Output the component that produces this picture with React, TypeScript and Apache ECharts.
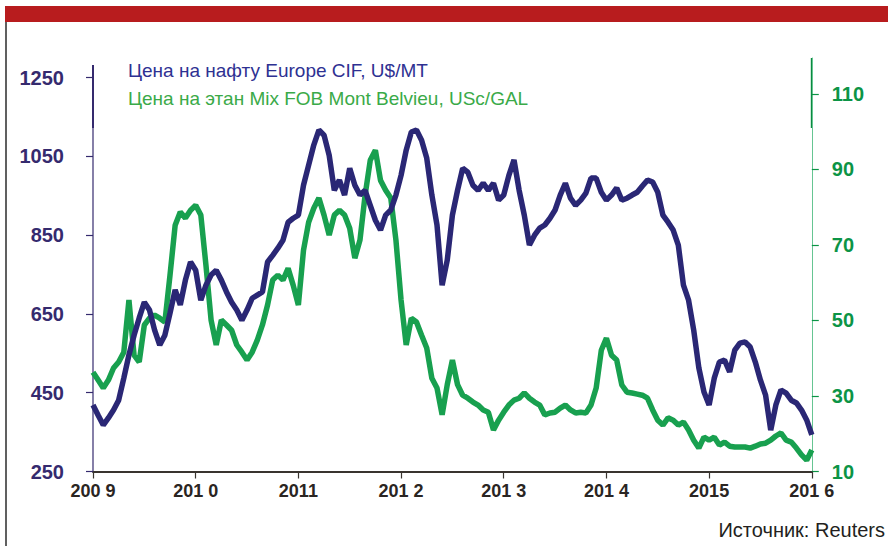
import React, { useEffect, useRef } from "react";
import * as echarts from "echarts";

// Sampling: every 0.05 year from 2009.00 to 2016.00
const startYear = 2009;
const step = 0.05;

// Naphtha Europe CIF, US$/MT (left axis)
const oil = [
  419, 393, 368, 386, 406, 431, 487, 546, 596, 640, 680, 660, 609, 571, 596, 652, 711, 673, 736, 782, 761,
  685, 723, 749, 761, 736, 706, 680, 660, 634, 660, 690, 698, 706, 782, 799, 817, 837, 883, 893, 901,
  977, 1028, 1079, 1117, 1104, 1053, 964, 990, 952, 1020, 977, 952, 964, 926, 888, 863, 901, 914, 952, 1002,
  1066, 1112, 1117, 1091, 1046, 952, 876, 723, 787, 901, 964, 1020, 1010, 977, 964, 982, 964, 982, 939, 952,
  1002, 1041, 964, 901, 825, 850, 868, 876, 893, 914, 952, 982, 944, 926, 939, 957, 995, 995, 959, 939,
  952, 970, 939, 944, 952, 959, 975, 990, 985, 959, 901, 883, 863, 825, 723, 685, 609, 513, 452, 419,
  487, 528, 533, 503, 558, 576, 579, 566, 528, 482, 444, 355, 419, 457, 449, 431, 424, 406, 381, 343,
];

// Ethane Mix FOB Mont Belvieu, USc/GAL (right axis)
const ethane = [
  36.3, 34.2, 32.1, 34.2, 37.4, 39.0, 41.6, 55.4, 40.8, 39.0, 48.8, 50.6, 51.4, 50.6, 49.6, 62.0, 75.2, 78.7, 77.1, 79.2, 80.5,
  77.9, 64.6, 50.1, 43.5, 50.1, 48.8, 47.4, 43.5, 41.6, 39.5, 41.6, 44.8, 48.8, 54.1, 60.7, 62.0, 60.7, 63.8, 59.3, 54.1,
  68.6, 76.0, 79.7, 82.4, 77.9, 72.6, 77.9, 79.2, 77.9, 74.4, 66.5, 71.3, 83.2, 92.4, 95.1, 87.1, 84.5, 82.4, 71.3, 55.4,
  43.5, 50.6, 49.6, 46.1, 42.7, 34.7, 32.1, 25.0, 33.0, 39.5, 33.0, 30.2, 29.4, 28.4, 27.6, 26.3, 25.7, 21.0, 23.6, 25.7,
  27.6, 28.9, 29.4, 30.8, 29.4, 28.4, 27.6, 25.0, 25.5, 25.7, 26.8, 27.6, 26.3, 25.5, 25.7, 25.5, 27.6, 32.1, 42.1, 45.3,
  40.8, 39.5, 32.9, 31.0, 30.8, 30.5, 30.2, 29.4, 26.3, 23.6, 22.3, 24.2, 23.6, 22.3, 23.1, 21.0, 18.3, 16.2, 19.1, 18.3,
  19.1, 17.0, 17.8, 16.7, 16.5, 16.5, 16.5, 16.2, 16.7, 17.3, 17.5, 18.3, 19.4, 20.2, 18.3, 17.8, 16.2, 14.4, 13.0, 15.7,
];

const yearTicks = [2009, 2010, 2011, 2012, 2013, 2014, 2015, 2016];
const yearLabels = ["200 9", "201 0", "2011", "201 2", "201 3", "201 4", "2015", "201 6"];
const leftTicks = [250, 450, 650, 850, 1050, 1250];
const rightTicks = [10, 30, 50, 70, 90, 110];

const legendOil = "Цена на нафту Europe CIF, U$/MT";
const legendEthane = "Цена на этан Mix FOB Mont Belvieu, USc/GAL";
const sourceText = "Источник: Reuters";

const FONT = '"Liberation Sans", Arial, Helvetica, sans-serif';
const NAVY = "#2a2775";
const GREEN = "#18a04f";
const PURPLE = "#352a6e";
const DKGREEN = "#0c9446";

export default function App() {
  const ref = useRef<HTMLDivElement>(null);

  useEffect(() => {
    if (!ref.current) return;
    const chart = echarts.init(ref.current, null, { renderer: "svg" });
    const xOf = (i: number) => Math.round((startYear + i * step) * 1000) / 1000;
    const oilData = oil.map((v, i) => [xOf(i), v]);
    const ethData = ethane.map((v, i) => [xOf(i), v]);

    chart.setOption({
      animation: false,
      backgroundColor: "#ffffff",
      grid: { left: 93, right: 76.2, top: 58, bottom: 74.5, containLabel: false },
      xAxis: {
        type: "value",
        min: 2009,
        max: 2016,
        interval: 1,
        axisLine: { show: true, lineStyle: { color: "#39342f", width: 2 } },
        axisTick: { show: true, length: 7, lineStyle: { color: "#39342f", width: 1.2 } },
        splitLine: { show: false },
        axisLabel: {
          margin: 10,
          color: "#2a2522",
          fontFamily: FONT,
          fontWeight: "bold",
          fontSize: 18,
          formatter: (v: number) => {
            const idx = yearTicks.indexOf(Math.round(v));
            return idx >= 0 ? yearLabels[idx] : "";
          },
        },
      },
      yAxis: [
        {
          type: "value",
          position: "left",
          min: 250,
          max: 1300,
          axisLine: { show: false },
          axisTick: {
            show: true,
            length: 7,
            customValues: leftTicks,
            lineStyle: { color: PURPLE, width: 1.2 },
          },
          splitLine: { show: false },
          axisLabel: {
            customValues: leftTicks,
            margin: 29,
            color: PURPLE,
            fontFamily: FONT,
            fontWeight: "bold",
            fontSize: 20,
            formatter: (v: number) => String(v),
          },
        },
        {
          type: "value",
          position: "right",
          min: 10,
          max: 119.5,
          axisLine: { show: true, lineStyle: { color: "#66c592", width: 1 } },
          axisTick: {
            show: true,
            length: 7,
            customValues: rightTicks,
            lineStyle: { color: DKGREEN, width: 1.2 },
          },
          splitLine: { show: false },
          axisLabel: {
            customValues: rightTicks,
            margin: 20,
            color: DKGREEN,
            fontFamily: FONT,
            fontWeight: "bold",
            fontSize: 20,
            formatter: (v: number) => String(v),
          },
        },
      ],
      series: [
        {
          name: legendEthane,
          type: "line",
          yAxisIndex: 1,
          data: ethData,
          showSymbol: false,
          symbol: "none",
          lineStyle: { color: GREEN, width: 5.5 },
          z: 2,
        },
        {
          name: legendOil,
          type: "line",
          yAxisIndex: 0,
          data: oilData,
          showSymbol: false,
          symbol: "none",
          lineStyle: { color: NAVY, width: 5.5 },
          z: 3,
        },
      ],
      graphic: [
        { type: "rect", shape: { x: 5, y: 6, width: 883, height: 16 }, style: { fill: "#b81c1e" } },
        { type: "line", shape: { x1: 6, y1: 22, x2: 6, y2: 546 }, style: { stroke: "#2b2b2b", lineWidth: 1.5 } },
        { type: "line", shape: { x1: 93, y1: 65, x2: 93, y2: 471.5 }, style: { stroke: PURPLE, lineWidth: 1.2 } },
        { type: "line", shape: { x1: 93, y1: 65, x2: 93, y2: 128 }, style: { stroke: PURPLE, lineWidth: 2 } },
        { type: "line", shape: { x1: 811.8, y1: 58, x2: 811.8, y2: 128 }, style: { stroke: "#0a8a40", lineWidth: 2 } },
        {
          type: "text",
          x: 128,
          y: 70,
          style: { text: legendOil, fill: "#2e3192", font: `19px ${FONT}`, textVerticalAlign: "middle", verticalAlign: "middle" },
        },
        {
          type: "text",
          x: 128,
          y: 98,
          style: { text: legendEthane, fill: "#3aaa48", font: `19px ${FONT}`, textVerticalAlign: "middle", verticalAlign: "middle" },
        },
        {
          type: "text",
          x: 885,
          y: 530,
          style: {
            text: sourceText,
            fill: "#231f20",
            font: `20px ${FONT}`,
            textAlign: "right",
            align: "right",
            textVerticalAlign: "middle",
            verticalAlign: "middle",
          },
        },
      ],
    });
    return () => chart.dispose();
  }, []);

  return (
    <div
      ref={ref}
      style={{ position: "fixed", left: 0, top: 0, width: 888, height: 546, background: "#fff" }}
    />
  );
}
